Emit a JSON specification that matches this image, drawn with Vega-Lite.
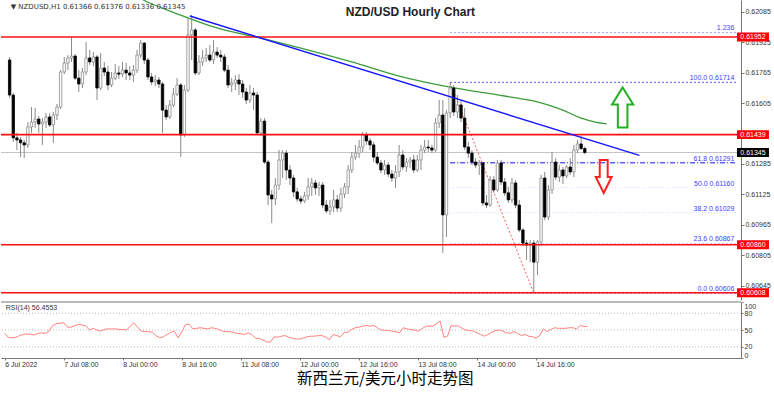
{
"$schema": "https://vega.github.io/schema/vega-lite/v6.json",
"padding": 0,
"background": "white",
"config": {"view": {"stroke": null}, "font": "Liberation Sans", "axis": {"labelOverlap": false, "labelBound": false, "labelFontSize": 7, "labelColor": "#333333", "tickColor": "#777777", "domainColor": "#777777", "grid": false}},
"title": {"text": "新西兰元/美元小时走势图", "orient": "bottom", "anchor": "middle", "frame": "bounds", "font": "Noto Sans CJK SC", "fontSize": 15.5, "fontWeight": "normal", "color": "#000000", "offset": 5},
"spacing": 2,
"bounds": "flush",
"datasets": {
"c": [
{"i":0,"o":0.61831,"h":0.61847,"l":0.61632,"c":0.61647,"r":44},
{"i":1,"o":0.61647,"h":0.61658,"l":0.614,"c":0.61422,"r":37},
{"i":2,"o":0.61422,"h":0.61448,"l":0.61358,"c":0.61411,"r":36},
{"i":3,"o":0.61411,"h":0.61426,"l":0.61321,"c":0.61396,"r":37},
{"i":4,"o":0.61396,"h":0.61411,"l":0.61316,"c":0.61385,"r":40},
{"i":5,"o":0.61385,"h":0.61505,"l":0.61369,"c":0.61479,"r":42},
{"i":6,"o":0.61479,"h":0.61584,"l":0.61448,"c":0.61505,"r":43},
{"i":7,"o":0.61505,"h":0.61579,"l":0.61474,"c":0.61521,"r":42},
{"i":8,"o":0.61521,"h":0.61537,"l":0.61448,"c":0.61495,"r":41},
{"i":9,"o":0.61495,"h":0.61526,"l":0.61385,"c":0.61505,"r":44},
{"i":10,"o":0.61505,"h":0.61553,"l":0.61474,"c":0.61532,"r":45},
{"i":11,"o":0.61532,"h":0.61553,"l":0.61479,"c":0.6149,"r":44},
{"i":12,"o":0.6149,"h":0.61558,"l":0.61396,"c":0.61542,"r":48},
{"i":13,"o":0.61542,"h":0.616,"l":0.61516,"c":0.61584,"r":58},
{"i":14,"o":0.61584,"h":0.61778,"l":0.61574,"c":0.61768,"r":61},
{"i":15,"o":0.61768,"h":0.61847,"l":0.61757,"c":0.61815,"r":62},
{"i":16,"o":0.61815,"h":0.61857,"l":0.61778,"c":0.61842,"r":63},
{"i":17,"o":0.61842,"h":0.61952,"l":0.61821,"c":0.61852,"r":55},
{"i":18,"o":0.61852,"h":0.61863,"l":0.61726,"c":0.61736,"r":55},
{"i":19,"o":0.61736,"h":0.61778,"l":0.61663,"c":0.61705,"r":58},
{"i":20,"o":0.61705,"h":0.61789,"l":0.61684,"c":0.61768,"r":60},
{"i":21,"o":0.61768,"h":0.61926,"l":0.61752,"c":0.61842,"r":59},
{"i":22,"o":0.61842,"h":0.61884,"l":0.61805,"c":0.61821,"r":57},
{"i":23,"o":0.61821,"h":0.61873,"l":0.618,"c":0.61847,"r":50},
{"i":24,"o":0.61847,"h":0.61857,"l":0.61621,"c":0.61684,"r":53},
{"i":25,"o":0.61684,"h":0.61868,"l":0.61673,"c":0.61789,"r":50},
{"i":26,"o":0.61789,"h":0.61821,"l":0.61747,"c":0.61768,"r":48},
{"i":27,"o":0.61768,"h":0.618,"l":0.61673,"c":0.617,"r":51},
{"i":28,"o":0.617,"h":0.61768,"l":0.61689,"c":0.61736,"r":52},
{"i":29,"o":0.61736,"h":0.6181,"l":0.61726,"c":0.61763,"r":52},
{"i":30,"o":0.61763,"h":0.618,"l":0.61731,"c":0.61757,"r":52},
{"i":31,"o":0.61757,"h":0.61821,"l":0.61742,"c":0.61778,"r":51},
{"i":32,"o":0.61778,"h":0.61815,"l":0.61726,"c":0.61763,"r":51},
{"i":33,"o":0.61763,"h":0.618,"l":0.61726,"c":0.61752,"r":50},
{"i":34,"o":0.61752,"h":0.61805,"l":0.61716,"c":0.61778,"r":56},
{"i":35,"o":0.61778,"h":0.61884,"l":0.61763,"c":0.61857,"r":63},
{"i":36,"o":0.61857,"h":0.61936,"l":0.61842,"c":0.6192,"r":55},
{"i":37,"o":0.6192,"h":0.61926,"l":0.6181,"c":0.61831,"r":48},
{"i":38,"o":0.61831,"h":0.61842,"l":0.61726,"c":0.61742,"r":47},
{"i":39,"o":0.61742,"h":0.61763,"l":0.617,"c":0.61716,"r":47},
{"i":40,"o":0.61716,"h":0.61752,"l":0.61694,"c":0.61726,"r":46},
{"i":41,"o":0.61726,"h":0.61742,"l":0.61684,"c":0.61705,"r":40},
{"i":42,"o":0.61705,"h":0.61716,"l":0.61448,"c":0.61568,"r":36},
{"i":43,"o":0.61568,"h":0.61595,"l":0.61516,"c":0.61532,"r":38},
{"i":44,"o":0.61532,"h":0.61621,"l":0.61521,"c":0.61595,"r":42},
{"i":45,"o":0.61595,"h":0.61684,"l":0.61584,"c":0.61652,"r":46},
{"i":46,"o":0.61652,"h":0.61736,"l":0.61642,"c":0.617,"r":48},
{"i":47,"o":0.617,"h":0.6171,"l":0.61321,"c":0.61437,"r":36},
{"i":48,"o":0.61437,"h":0.617,"l":0.61426,"c":0.61673,"r":47},
{"i":49,"o":0.61673,"h":0.62052,"l":0.61663,"c":0.61963,"r":60},
{"i":50,"o":0.61963,"h":0.62068,"l":0.61831,"c":0.61989,"r":60},
{"i":51,"o":0.61989,"h":0.62,"l":0.61752,"c":0.61763,"r":52},
{"i":52,"o":0.61763,"h":0.61857,"l":0.61752,"c":0.61821,"r":53},
{"i":53,"o":0.61821,"h":0.61884,"l":0.618,"c":0.61842,"r":54},
{"i":54,"o":0.61842,"h":0.61894,"l":0.61821,"c":0.61857,"r":53},
{"i":55,"o":0.61857,"h":0.6191,"l":0.61821,"c":0.61831,"r":52},
{"i":56,"o":0.61831,"h":0.61936,"l":0.6181,"c":0.61873,"r":54},
{"i":57,"o":0.61873,"h":0.61899,"l":0.61842,"c":0.61857,"r":53},
{"i":58,"o":0.61857,"h":0.61884,"l":0.61821,"c":0.61847,"r":51},
{"i":59,"o":0.61847,"h":0.61863,"l":0.61768,"c":0.61778,"r":48},
{"i":60,"o":0.61778,"h":0.61805,"l":0.61684,"c":0.617,"r":47},
{"i":61,"o":0.617,"h":0.61736,"l":0.61663,"c":0.6171,"r":47},
{"i":62,"o":0.6171,"h":0.61752,"l":0.61673,"c":0.61726,"r":46},
{"i":63,"o":0.61726,"h":0.61757,"l":0.61647,"c":0.61705,"r":44},
{"i":64,"o":0.61705,"h":0.61726,"l":0.61632,"c":0.61663,"r":43},
{"i":65,"o":0.61663,"h":0.61684,"l":0.616,"c":0.61621,"r":42},
{"i":66,"o":0.61621,"h":0.617,"l":0.61605,"c":0.61658,"r":45},
{"i":67,"o":0.61658,"h":0.61684,"l":0.61568,"c":0.61647,"r":42},
{"i":68,"o":0.61647,"h":0.61663,"l":0.61437,"c":0.61448,"r":35},
{"i":69,"o":0.61448,"h":0.61526,"l":0.61432,"c":0.6151,"r":35},
{"i":70,"o":0.6151,"h":0.61526,"l":0.61285,"c":0.61295,"r":32},
{"i":71,"o":0.61295,"h":0.61306,"l":0.61069,"c":0.61122,"r":29},
{"i":72,"o":0.61122,"h":0.61148,"l":0.60974,"c":0.61101,"r":28},
{"i":73,"o":0.61101,"h":0.61211,"l":0.61069,"c":0.61174,"r":38},
{"i":74,"o":0.61174,"h":0.61358,"l":0.61148,"c":0.61306,"r":37},
{"i":75,"o":0.61306,"h":0.61358,"l":0.61211,"c":0.61342,"r":39},
{"i":76,"o":0.61342,"h":0.61358,"l":0.61201,"c":0.61253,"r":40},
{"i":77,"o":0.61253,"h":0.61279,"l":0.61174,"c":0.61211,"r":37},
{"i":78,"o":0.61211,"h":0.61227,"l":0.61112,"c":0.61138,"r":35},
{"i":79,"o":0.61138,"h":0.61159,"l":0.61085,"c":0.61101,"r":34},
{"i":80,"o":0.61101,"h":0.61117,"l":0.61074,"c":0.6109,"r":34},
{"i":81,"o":0.6109,"h":0.61138,"l":0.6108,"c":0.61117,"r":36},
{"i":82,"o":0.61117,"h":0.61211,"l":0.61096,"c":0.61164,"r":38},
{"i":83,"o":0.61164,"h":0.61211,"l":0.61117,"c":0.61185,"r":39},
{"i":84,"o":0.61185,"h":0.61201,"l":0.61122,"c":0.61159,"r":39},
{"i":85,"o":0.61159,"h":0.6119,"l":0.61117,"c":0.61174,"r":40},
{"i":86,"o":0.61174,"h":0.6119,"l":0.61053,"c":0.61069,"r":40},
{"i":87,"o":0.61069,"h":0.61096,"l":0.61027,"c":0.61038,"r":37},
{"i":88,"o":0.61038,"h":0.61096,"l":0.61017,"c":0.61059,"r":33},
{"i":89,"o":0.61059,"h":0.61148,"l":0.61033,"c":0.61096,"r":42},
{"i":90,"o":0.61096,"h":0.61122,"l":0.61033,"c":0.61053,"r":40},
{"i":91,"o":0.61053,"h":0.61159,"l":0.61033,"c":0.61127,"r":38},
{"i":92,"o":0.61127,"h":0.61185,"l":0.61106,"c":0.61164,"r":45},
{"i":93,"o":0.61164,"h":0.61279,"l":0.61127,"c":0.61253,"r":46},
{"i":94,"o":0.61253,"h":0.61348,"l":0.61237,"c":0.61321,"r":51},
{"i":95,"o":0.61321,"h":0.61385,"l":0.61306,"c":0.61342,"r":54},
{"i":96,"o":0.61342,"h":0.61411,"l":0.61316,"c":0.61374,"r":55},
{"i":97,"o":0.61374,"h":0.61453,"l":0.61348,"c":0.61437,"r":57},
{"i":98,"o":0.61437,"h":0.61453,"l":0.61385,"c":0.61406,"r":58},
{"i":99,"o":0.61406,"h":0.61422,"l":0.61358,"c":0.61385,"r":57},
{"i":100,"o":0.61385,"h":0.614,"l":0.61295,"c":0.61321,"r":58},
{"i":101,"o":0.61321,"h":0.61348,"l":0.61279,"c":0.6129,"r":54},
{"i":102,"o":0.6129,"h":0.61306,"l":0.61237,"c":0.61253,"r":50},
{"i":103,"o":0.61253,"h":0.61306,"l":0.61227,"c":0.61279,"r":49},
{"i":104,"o":0.61279,"h":0.61295,"l":0.61216,"c":0.61232,"r":49},
{"i":105,"o":0.61232,"h":0.61253,"l":0.6119,"c":0.61211,"r":48},
{"i":106,"o":0.61211,"h":0.61279,"l":0.61159,"c":0.61243,"r":47},
{"i":107,"o":0.61243,"h":0.61385,"l":0.61216,"c":0.61332,"r":45},
{"i":108,"o":0.61332,"h":0.61358,"l":0.61253,"c":0.61269,"r":54},
{"i":109,"o":0.61269,"h":0.61316,"l":0.61243,"c":0.61295,"r":52},
{"i":110,"o":0.61295,"h":0.61321,"l":0.61264,"c":0.61306,"r":51},
{"i":111,"o":0.61306,"h":0.61332,"l":0.61237,"c":0.61253,"r":50},
{"i":112,"o":0.61253,"h":0.61332,"l":0.61243,"c":0.61306,"r":48},
{"i":113,"o":0.61306,"h":0.61385,"l":0.61253,"c":0.61358,"r":52},
{"i":114,"o":0.61358,"h":0.61411,"l":0.61342,"c":0.61374,"r":56},
{"i":115,"o":0.61374,"h":0.61411,"l":0.61348,"c":0.61369,"r":57},
{"i":116,"o":0.61369,"h":0.61385,"l":0.61342,"c":0.61358,"r":57},
{"i":117,"o":0.61358,"h":0.61526,"l":0.61348,"c":0.615,"r":61},
{"i":118,"o":0.615,"h":0.61621,"l":0.61474,"c":0.61542,"r":66},
{"i":119,"o":0.61542,"h":0.61621,"l":0.60817,"c":0.61017,"r":37},
{"i":120,"o":0.61017,"h":0.61568,"l":0.60901,"c":0.61553,"r":39},
{"i":121,"o":0.61553,"h":0.61714,"l":0.61526,"c":0.61684,"r":58},
{"i":122,"o":0.61684,"h":0.617,"l":0.61537,"c":0.61558,"r":57},
{"i":123,"o":0.61558,"h":0.61647,"l":0.61526,"c":0.61595,"r":57},
{"i":124,"o":0.61595,"h":0.61621,"l":0.61505,"c":0.61526,"r":53},
{"i":125,"o":0.61526,"h":0.61579,"l":0.61358,"c":0.61374,"r":50},
{"i":126,"o":0.61374,"h":0.614,"l":0.61316,"c":0.61342,"r":49},
{"i":127,"o":0.61342,"h":0.61358,"l":0.61279,"c":0.61295,"r":48},
{"i":128,"o":0.61295,"h":0.61316,"l":0.61264,"c":0.61279,"r":45},
{"i":129,"o":0.61279,"h":0.61306,"l":0.61227,"c":0.6129,"r":42},
{"i":130,"o":0.6129,"h":0.61295,"l":0.61064,"c":0.6108,"r":39},
{"i":131,"o":0.6108,"h":0.61122,"l":0.61053,"c":0.61069,"r":42},
{"i":132,"o":0.61069,"h":0.61222,"l":0.61059,"c":0.61201,"r":46},
{"i":133,"o":0.61201,"h":0.61222,"l":0.61133,"c":0.61148,"r":49},
{"i":134,"o":0.61148,"h":0.61306,"l":0.61138,"c":0.6129,"r":50},
{"i":135,"o":0.6129,"h":0.61306,"l":0.61174,"c":0.6119,"r":48},
{"i":136,"o":0.6119,"h":0.61211,"l":0.61117,"c":0.61133,"r":45},
{"i":137,"o":0.61133,"h":0.61164,"l":0.6108,"c":0.61096,"r":44},
{"i":138,"o":0.61096,"h":0.61211,"l":0.6108,"c":0.61185,"r":47},
{"i":139,"o":0.61185,"h":0.61201,"l":0.61053,"c":0.61069,"r":44},
{"i":140,"o":0.61069,"h":0.61096,"l":0.60927,"c":0.60938,"r":40},
{"i":141,"o":0.60938,"h":0.60948,"l":0.60853,"c":0.60869,"r":42},
{"i":142,"o":0.60869,"h":0.60885,"l":0.6078,"c":0.60859,"r":39},
{"i":143,"o":0.60859,"h":0.60885,"l":0.60769,"c":0.60869,"r":38},
{"i":144,"o":0.60869,"h":0.60885,"l":0.60606,"c":0.60769,"r":36},
{"i":145,"o":0.60769,"h":0.60885,"l":0.60701,"c":0.60875,"r":40},
{"i":146,"o":0.60875,"h":0.61227,"l":0.60853,"c":0.61211,"r":52},
{"i":147,"o":0.61211,"h":0.61243,"l":0.6099,"c":0.61006,"r":47},
{"i":148,"o":0.61006,"h":0.61174,"l":0.6099,"c":0.61148,"r":51},
{"i":149,"o":0.61148,"h":0.61348,"l":0.61127,"c":0.61295,"r":54},
{"i":150,"o":0.61295,"h":0.61316,"l":0.61201,"c":0.61216,"r":53},
{"i":151,"o":0.61216,"h":0.61279,"l":0.6119,"c":0.61253,"r":53},
{"i":152,"o":0.61253,"h":0.61269,"l":0.6118,"c":0.61222,"r":53},
{"i":153,"o":0.61222,"h":0.61279,"l":0.61211,"c":0.61269,"r":54},
{"i":154,"o":0.61269,"h":0.61316,"l":0.61227,"c":0.61243,"r":54},
{"i":155,"o":0.61243,"h":0.61385,"l":0.61216,"c":0.61358,"r":52},
{"i":156,"o":0.61358,"h":0.61411,"l":0.61342,"c":0.6139,"r":58},
{"i":157,"o":0.6139,"h":0.6143,"l":0.61358,"c":0.61366,"r":56},
{"i":158,"o":0.61366,"h":0.61376,"l":0.61336,"c":0.61345,"r":56.4553}
],
"lv": [{"p":0.61952},{"p":0.61439},{"p":0.6086},{"p":0.60608}],
"bid": [{"p":0.61345}],
"fib": [
{"lv":"1.236","p":0.61976,"lab":"1.236"},
{"lv":"100.0","p":0.61714,"lab":"100.0 0.61714"},
{"lv":"61.8","p":0.61291,"lab":"61.8 0.61291"},
{"lv":"50.0","p":0.6116,"lab":"50.0 0.61160"},
{"lv":"38.2","p":0.61029,"lab":"38.2 0.61029"},
{"lv":"23.6","p":0.60867,"lab":"23.6 0.60867"},
{"lv":"0.0","p":0.60606,"lab":"0.0 0.60606"}
],
"fd": [{"i":121,"p":0.61714},{"i":144,"p":0.60606}],
"tl": [{"i":49.5,"p":0.62062},{"i":173,"p":0.6133}],
"ma": [
{"i":35,"p":0.62168},{"i":37,"p":0.62144},{"i":42,"p":0.62104},{"i":49,"p":0.62052},{"i":56,"p":0.62005},
{"i":70,"p":0.61942},{"i":80,"p":0.61894},{"i":94,"p":0.61821},{"i":107,"p":0.61747},{"i":121,"p":0.61689},
{"i":136,"p":0.61642},{"i":145,"p":0.61611},{"i":152,"p":0.61568},{"i":157,"p":0.61526},{"i":161,"p":0.61505},{"i":164,"p":0.61495}
],
"arr": [{"d":"up","i":168.4,"p":0.61582},{"d":"down","i":163.2,"p":0.61219}],
"grid": [{"g":20},{"g":50},{"g":80}]
},
"vconcat": [
{
"width": 740,
"height": 300,
"layer": [
{
  "data": {"name": "bid"},
  "mark": {"type": "rule", "color": "#c4c4c4", "strokeWidth": 1},
  "encoding": {
    "y": {"field": "p", "type": "quantitative", "title": null, "scale": {"domain": [0.6057, 0.621465], "nice": false, "zero": false},
      "axis": {"orient": "right", "values": [0.62085, 0.61925, 0.61765, 0.61605, 0.61285, 0.61125, 0.60965, 0.60805, 0.60645], "format": ".5f", "tickSize": 3, "labelPadding": 1, "labelFlush": false, "labelOverlap": false}}
  }
},
{
  "data": {"name": "fib"},
  "mark": {"type": "rule", "strokeWidth": 1},
  "encoding": {
    "x": {"datum": 121, "type": "quantitative", "scale": {"domain": [-1, 199.54], "nice": false, "zero": false}, "axis": null},
    "x2": {"datum": 199.54},
    "y": {"field": "p", "type": "quantitative", "title": null, "axis": {"orient": "right", "values": [0.62085, 0.61925, 0.61765, 0.61605, 0.61285, 0.61125, 0.60965, 0.60805, 0.60645], "format": ".5f", "tickSize": 3, "labelPadding": 1, "labelFlush": false, "labelOverlap": false}},
    "color": {"field": "lv", "type": "nominal", "legend": null, "scale": {"domain": ["1.236", "100.0", "61.8", "50.0", "38.2", "23.6", "0.0"], "range": ["#a6a6ff", "#5050ff", "#1010ee", "#d8d8ff", "#d8d8ff", "#c4c4ff", "#7070ff"]}},
    "strokeDash": {"field": "lv", "type": "nominal", "legend": null, "scale": {"domain": ["1.236", "100.0", "61.8", "50.0", "38.2", "23.6", "0.0"], "range": [[2, 2], [2, 2], [5, 2, 1, 2], [1, 2], [1, 2], [2, 2], [2, 2]]}}
  }
},
{
  "data": {"name": "fd"},
  "mark": {"type": "line", "color": "#ff5a5a", "strokeWidth": 1, "strokeDash": [2, 2]},
  "encoding": {
    "x": {"field": "i", "type": "quantitative", "scale": {"domain": [-1, 199.54], "nice": false, "zero": false}, "axis": null},
    "y": {"field": "p", "type": "quantitative", "title": null, "axis": {"orient": "right", "values": [0.62085, 0.61925, 0.61765, 0.61605, 0.61285, 0.61125, 0.60965, 0.60805, 0.60645], "format": ".5f", "tickSize": 3, "labelPadding": 1, "labelFlush": false, "labelOverlap": false}}}
},
{
  "data": {"name": "ma"},
  "mark": {"type": "line", "color": "#3a9d3a", "strokeWidth": 1.3, "interpolate": "monotone", "clip": true},
  "encoding": {
    "x": {"field": "i", "type": "quantitative", "scale": {"domain": [-1, 199.54], "nice": false, "zero": false}, "axis": null},
    "y": {"field": "p", "type": "quantitative", "title": null, "axis": {"orient": "right", "values": [0.62085, 0.61925, 0.61765, 0.61605, 0.61285, 0.61125, 0.60965, 0.60805, 0.60645], "format": ".5f", "tickSize": 3, "labelPadding": 1, "labelFlush": false, "labelOverlap": false}}}
},
{
  "data": {"name": "c"},
  "mark": {"type": "rule", "color": "#8a8a8a", "strokeWidth": 1},
  "encoding": {
    "x": {"field": "i", "type": "quantitative", "scale": {"domain": [-1, 199.54], "nice": false, "zero": false}, "axis": null},
    "y": {"field": "l", "type": "quantitative", "title": null, "axis": {"orient": "right", "values": [0.62085, 0.61925, 0.61765, 0.61605, 0.61285, 0.61125, 0.60965, 0.60805, 0.60645], "format": ".5f", "tickSize": 3, "labelPadding": 1, "labelFlush": false, "labelOverlap": false}},
    "y2": {"field": "h"}
  }
},
{
  "data": {"name": "c"},
  "mark": {"type": "bar", "width": 2.4, "strokeWidth": 0.8},
  "encoding": {
    "x": {"field": "i", "type": "quantitative", "scale": {"domain": [-1, 199.54], "nice": false, "zero": false}, "axis": null},
    "y": {"field": "o", "type": "quantitative", "title": null, "axis": {"orient": "right", "values": [0.62085, 0.61925, 0.61765, 0.61605, 0.61285, 0.61125, 0.60965, 0.60805, 0.60645], "format": ".5f", "tickSize": 3, "labelPadding": 1, "labelFlush": false, "labelOverlap": false}},
    "y2": {"field": "c"},
    "fill": {"condition": {"test": "datum.c >= datum.o", "value": "#ffffff"}, "value": "#000000"},
    "stroke": {"condition": {"test": "datum.c >= datum.o", "value": "#8c8c8c"}, "value": "#000000"}
  }
},
{
  "data": {"name": "lv"},
  "mark": {"type": "rule", "color": "#ff1010", "strokeWidth": 1.6},
  "encoding": {"y": {"field": "p", "type": "quantitative", "title": null, "axis": {"orient": "right", "values": [0.62085, 0.61925, 0.61765, 0.61605, 0.61285, 0.61125, 0.60965, 0.60805, 0.60645], "format": ".5f", "tickSize": 3, "labelPadding": 1, "labelFlush": false, "labelOverlap": false}}}
},
{
  "data": {"name": "tl"},
  "mark": {"type": "line", "color": "#1818ff", "strokeWidth": 1.5},
  "encoding": {
    "x": {"field": "i", "type": "quantitative", "scale": {"domain": [-1, 199.54], "nice": false, "zero": false}, "axis": null},
    "y": {"field": "p", "type": "quantitative", "title": null, "axis": {"orient": "right", "values": [0.62085, 0.61925, 0.61765, 0.61605, 0.61285, 0.61125, 0.60965, 0.60805, 0.60645], "format": ".5f", "tickSize": 3, "labelPadding": 1, "labelFlush": false, "labelOverlap": false}}}
},
{
  "data": {"name": "arr"},
  "transform": [{"filter": "datum.d == 'up'"}],
  "mark": {"type": "point", "shape": "M0,-1L0.53,-0.15L0.24,-0.15L0.24,1L-0.24,1L-0.24,-0.15L-0.53,-0.15Z", "size": 1600, "filled": false, "stroke": "#22b022", "strokeWidth": 2, "opacity": 1},
  "encoding": {
    "x": {"field": "i", "type": "quantitative", "scale": {"domain": [-1, 199.54], "nice": false, "zero": false}, "axis": null},
    "y": {"field": "p", "type": "quantitative", "title": null, "axis": {"orient": "right", "values": [0.62085, 0.61925, 0.61765, 0.61605, 0.61285, 0.61125, 0.60965, 0.60805, 0.60645], "format": ".5f", "tickSize": 3, "labelPadding": 1, "labelFlush": false, "labelOverlap": false}}}
},
{
  "data": {"name": "arr"},
  "transform": [{"filter": "datum.d == 'down'"}],
  "mark": {"type": "point", "shape": "M0,1L0.48,0.03L0.24,0.03L0.24,-1L-0.24,-1L-0.24,0.03L-0.48,0.03Z", "size": 1089, "filled": false, "stroke": "#ff2020", "strokeWidth": 2, "opacity": 1},
  "encoding": {
    "x": {"field": "i", "type": "quantitative", "scale": {"domain": [-1, 199.54], "nice": false, "zero": false}, "axis": null},
    "y": {"field": "p", "type": "quantitative", "title": null, "axis": {"orient": "right", "values": [0.62085, 0.61925, 0.61765, 0.61605, 0.61285, 0.61125, 0.60965, 0.60805, 0.60645], "format": ".5f", "tickSize": 3, "labelPadding": 1, "labelFlush": false, "labelOverlap": false}}}
},
{
  "data": {"name": "fib"},
  "mark": {"type": "text", "align": "right", "baseline": "bottom", "dy": -1, "fontSize": 7, "color": "#4040ff"},
  "encoding": {
    "x": {"datum": 199.1, "type": "quantitative", "axis": null},
    "y": {"field": "p", "type": "quantitative", "title": null, "axis": {"orient": "right", "values": [0.62085, 0.61925, 0.61765, 0.61605, 0.61285, 0.61125, 0.60965, 0.60805, 0.60645], "format": ".5f", "tickSize": 3, "labelPadding": 1, "labelFlush": false, "labelOverlap": false}},
    "text": {"field": "lab"}
  }
},
{
  "data": {"name": "lv"},
  "mark": {"type": "point", "shape": "M-1,-0.28L1,-0.28L1,0.28L-1,0.28Z", "size": 1024, "filled": true, "color": "#ff0000", "opacity": 1},
  "encoding": {"x": {"datum": 204.2, "type": "quantitative", "axis": null}, "y": {"field": "p", "type": "quantitative", "title": null, "axis": {"orient": "right", "values": [0.62085, 0.61925, 0.61765, 0.61605, 0.61285, 0.61125, 0.60965, 0.60805, 0.60645], "format": ".5f", "tickSize": 3, "labelPadding": 1, "labelFlush": false, "labelOverlap": false}}}
},
{
  "data": {"name": "lv"},
  "mark": {"type": "text", "align": "center", "baseline": "middle", "fontSize": 7, "color": "#ffffff"},
  "encoding": {"x": {"datum": 204.2, "type": "quantitative", "axis": null}, "y": {"field": "p", "type": "quantitative", "title": null, "axis": {"orient": "right", "values": [0.62085, 0.61925, 0.61765, 0.61605, 0.61285, 0.61125, 0.60965, 0.60805, 0.60645], "format": ".5f", "tickSize": 3, "labelPadding": 1, "labelFlush": false, "labelOverlap": false}}, "text": {"field": "p", "format": ".5f"}}
},
{
  "data": {"name": "bid"},
  "mark": {"type": "point", "shape": "M-1,-0.28L1,-0.28L1,0.28L-1,0.28Z", "size": 1024, "filled": true, "color": "#000000", "opacity": 1},
  "encoding": {"x": {"datum": 204.2, "type": "quantitative", "axis": null}, "y": {"field": "p", "type": "quantitative", "title": null, "axis": {"orient": "right", "values": [0.62085, 0.61925, 0.61765, 0.61605, 0.61285, 0.61125, 0.60965, 0.60805, 0.60645], "format": ".5f", "tickSize": 3, "labelPadding": 1, "labelFlush": false, "labelOverlap": false}}}
},
{
  "data": {"name": "bid"},
  "mark": {"type": "text", "align": "center", "baseline": "middle", "fontSize": 7, "color": "#ffffff"},
  "encoding": {"x": {"datum": 204.2, "type": "quantitative", "axis": null}, "y": {"field": "p", "type": "quantitative", "title": null, "axis": {"orient": "right", "values": [0.62085, 0.61925, 0.61765, 0.61605, 0.61285, 0.61125, 0.60965, 0.60805, 0.60645], "format": ".5f", "tickSize": 3, "labelPadding": 1, "labelFlush": false, "labelOverlap": false}}, "text": {"field": "p", "format": ".5f"}}
},
{
  "data": {"values": [{}]},
  "mark": {"type": "text", "text": "NZD/USD Hourly Chart", "fontWeight": "bold", "fontSize": 12, "color": "#222222", "align": "center", "baseline": "middle"},
  "encoding": {"x": {"datum": 110.1, "type": "quantitative", "axis": null}, "y": {"datum": 0.620835, "type": "quantitative", "title": null, "axis": {"orient": "right", "values": [0.62085, 0.61925, 0.61765, 0.61605, 0.61285, 0.61125, 0.60965, 0.60805, 0.60645], "format": ".5f", "tickSize": 3, "labelPadding": 1, "labelFlush": false, "labelOverlap": false}}}
},
{
  "data": {"values": [{}]},
  "mark": {"type": "text", "text": "▼ NZDUSD,H1  0.61366 0.61376 0.61336 0.61345", "fontSize": 7, "color": "#333333", "align": "left", "baseline": "middle", "font": "DejaVu Sans"},
  "encoding": {"x": {"datum": 0.3, "type": "quantitative", "axis": null}, "y": {"datum": 0.6211, "type": "quantitative", "title": null, "axis": {"orient": "right", "values": [0.62085, 0.61925, 0.61765, 0.61605, 0.61285, 0.61125, 0.60965, 0.60805, 0.60645], "format": ".5f", "tickSize": 3, "labelPadding": 1, "labelFlush": false, "labelOverlap": false}}}
}
]
},
{
"width": 740,
"height": 56,
"layer": [
{
  "data": {"name": "grid"},
  "mark": {"type": "rule", "color": "#bdbdbd", "strokeWidth": 1, "strokeDash": [1, 2]},
  "encoding": {"y": {"field": "g", "type": "quantitative", "title": null, "scale": {"domain": [0, 100], "nice": false, "zero": false},
    "axis": {"orient": "right", "values": [0, 20, 50, 80, 100], "tickSize": 2, "labelPadding": 1, "labelFlush": true, "labelOverlap": false}}}
},
{
  "data": {"values": [{}]},
  "mark": {"type": "rule", "color": "#777777", "strokeWidth": 1},
  "encoding": {"y": {"datum": 100, "type": "quantitative", "title": null,
    "axis": {"orient": "right", "values": [0, 20, 50, 80, 100], "tickSize": 2, "labelPadding": 1, "labelFlush": true, "labelOverlap": false}}}
},
{
  "data": {"name": "c"},
  "mark": {"type": "line", "color": "#ff8080", "strokeWidth": 1},
  "encoding": {
    "x": {"field": "i", "type": "quantitative", "title": null, "scale": {"domain": [-1, 199.54], "nice": false, "zero": false},
      "axis": {"orient": "bottom", "values": [0, 16, 32, 48, 64, 80, 96, 112, 128, 144], "labelExpr": "['6 Jul 2022','7 Jul 08:00','8 Jul 00:00','8 Jul 16:00','11 Jul 08:00','12 Jul 00:00','12 Jul 16:00','13 Jul 08:00','14 Jul 00:00','14 Jul 16:00'][round(datum.value/16)]", "labelAlign": "left", "labelAngle": 0, "tickSize": 2, "labelPadding": 0, "labelFlush": false, "labelOverlap": false}},
    "y": {"field": "r", "type": "quantitative", "title": null,
      "axis": {"orient": "right", "values": [0, 20, 50, 80, 100], "tickSize": 2, "labelPadding": 1, "labelFlush": true, "labelOverlap": false}}
  }
},
{
  "data": {"values": [{}]},
  "mark": {"type": "text", "text": "RSI(14) 56.4553", "fontSize": 7, "color": "#333333", "align": "left", "baseline": "middle"},
  "encoding": {
    "x": {"datum": 0.3, "type": "quantitative", "title": null,
      "axis": {"orient": "bottom", "values": [0, 16, 32, 48, 64, 80, 96, 112, 128, 144], "labelExpr": "['6 Jul 2022','7 Jul 08:00','8 Jul 00:00','8 Jul 16:00','11 Jul 08:00','12 Jul 00:00','12 Jul 16:00','13 Jul 08:00','14 Jul 00:00','14 Jul 16:00'][round(datum.value/16)]", "labelAlign": "left", "labelAngle": 0, "tickSize": 2, "labelPadding": 0, "labelFlush": false, "labelOverlap": false}},
    "y": {"datum": 89, "type": "quantitative", "title": null,
      "axis": {"orient": "right", "values": [0, 20, 50, 80, 100], "tickSize": 2, "labelPadding": 1, "labelFlush": true, "labelOverlap": false}}}
}
]
}
]
}
